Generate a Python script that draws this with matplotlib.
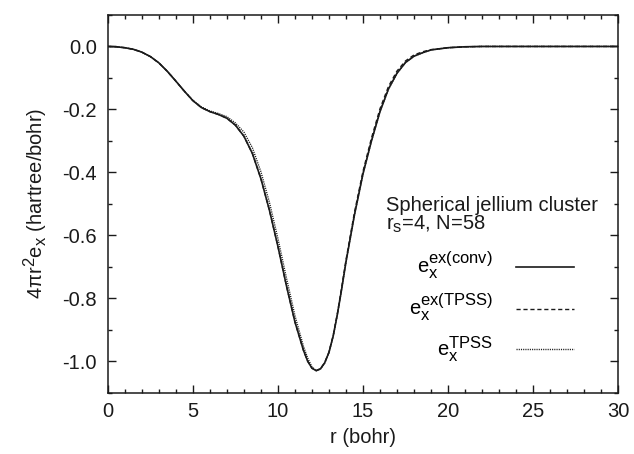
import matplotlib
matplotlib.use("Agg")
import matplotlib.pyplot as plt
import matplotlib._mathtext as mathtext_engine
from matplotlib.ticker import MultipleLocator, FormatStrFormatter

plt.rcParams['font.family'] = ['Liberation Sans', 'DejaVu Sans']
plt.rcParams['mathtext.fontset'] = 'custom'
plt.rcParams['mathtext.rm'] = 'Liberation Sans'
plt.rcParams['mathtext.it'] = 'Liberation Sans:italic'
plt.rcParams['mathtext.bf'] = 'Liberation Sans:bold'
# larger super/subscripts, closer to postscript-style enhanced text
mathtext_engine.SHRINK_FACTOR = 0.82

# radial grid (bohr)
r = [0, 0.5, 1, 1.5, 2, 2.5, 3, 3.5, 4, 4.5, 5, 5.5, 6, 6.5, 7, 7.5, 8,
     8.5, 9, 9.5, 10, 10.5, 11, 11.5, 11.75, 12, 12.25, 12.5, 12.75, 13,
     13.25, 13.5, 13.75, 14, 14.5, 15, 15.5, 16, 16.5, 17, 17.5, 18, 18.5,
     19, 20, 21, 22, 25, 30]

# 4 pi r^2 e_x, conventional exact exchange
ex_conv = [0, -0.001, -0.004, -0.009, -0.018, -0.032, -0.052, -0.079,
           -0.110, -0.142, -0.172, -0.194, -0.207, -0.216, -0.228, -0.250,
           -0.285, -0.340, -0.420, -0.520, -0.635, -0.760, -0.875, -0.965,
           -1.000, -1.022, -1.030, -1.024, -1.005, -0.972, -0.920, -0.850,
           -0.770, -0.685, -0.535, -0.405, -0.300, -0.207, -0.135, -0.085,
           -0.051, -0.031, -0.020, -0.011, -0.004, -0.001, 0, 0, 0]

# exact exchange in the TPSS gauge
ex_tpss_gauge = [0, -0.001, -0.004, -0.009, -0.018, -0.032, -0.052, -0.079,
                 -0.110, -0.142, -0.172, -0.194, -0.207, -0.216, -0.228, -0.250,
                 -0.285, -0.340, -0.420, -0.520, -0.635, -0.760, -0.875, -0.965,
                 -1.000, -1.022, -1.030, -1.024, -1.005, -0.971, -0.918, -0.847,
                 -0.765, -0.679, -0.527, -0.397, -0.291, -0.198, -0.127, -0.078,
                 -0.046, -0.027, -0.017, -0.010, -0.004, -0.001, 0, 0, 0]

# TPSS meta-GGA exchange
ex_tpss = [0, -0.001, -0.004, -0.009, -0.018, -0.032, -0.052, -0.079,
           -0.110, -0.142, -0.171, -0.192, -0.205, -0.213, -0.223, -0.243,
           -0.272, -0.322, -0.398, -0.495, -0.610, -0.735, -0.855, -0.952,
           -0.990, -1.018, -1.030, -1.025, -1.006, -0.973, -0.920, -0.850,
           -0.770, -0.685, -0.535, -0.405, -0.300, -0.207, -0.135, -0.085,
           -0.051, -0.031, -0.020, -0.011, -0.004, -0.001, 0, 0, 0]

fs = 14.5
ink = '#1a1a1a'

fig = plt.figure(figsize=(6.34, 4.54), dpi=100)
ax = fig.add_axes([0.170, 0.135, 0.805, 0.832])

ax.plot(r, ex_conv, color=ink, lw=1.2, ls='-',
        label=r'$\mathrm{e}_\mathrm{x}^\mathrm{ex(conv)}$')
ax.plot(r, ex_tpss_gauge, color=ink, lw=1.0, ls=(0, (3, 2)),
        label=r'$\mathrm{e}_\mathrm{x}^\mathrm{ex(TPSS)}$')
ax.plot(r, ex_tpss, color=ink, lw=1.0, ls=(0, (0.8, 0.8)),
        label=r'$\mathrm{e}_\mathrm{x}^\mathrm{TPSS}$')

ax.set_xlim(0, 30)
ax.set_ylim(-1.1, 0.1)
ax.xaxis.set_major_locator(MultipleLocator(5))
ax.xaxis.set_minor_locator(MultipleLocator(1))
ax.yaxis.set_major_locator(MultipleLocator(0.2))
ax.yaxis.set_minor_locator(MultipleLocator(0.1))
ax.yaxis.set_major_formatter(FormatStrFormatter('%.1f'))

ax.tick_params(which='both', direction='in', top=True, right=True,
               color=ink, width=1.0, labelsize=fs, labelcolor=ink)
ax.tick_params(which='major', length=5.5)
ax.tick_params(which='minor', length=2.7)
ax.tick_params(axis='x', pad=7)
ax.tick_params(axis='y', pad=8)
for s in ax.spines.values():
    s.set_linewidth(1.1)
    s.set_color(ink)

ax.set_xlabel('r (bohr)', fontsize=fs, color=ink, labelpad=5)
ax.set_ylabel(r'4$\mathrm{\pi}$r$^\mathrm{2}$e$_\mathrm{x}$ (hartree/bohr)',
              fontsize=fs, color=ink, labelpad=9)

# cluster description, two tightly stacked lines
ax.text(0.546, 0.481, 'Spherical jellium cluster', transform=ax.transAxes,
        fontsize=fs, color=ink, ha='left', va='baseline')
ax.text(0.546, 0.432, r'r$_\mathrm{s}$=4, N=58', transform=ax.transAxes,
        fontsize=fs, color=ink, ha='left', va='baseline')

ax.legend(loc='upper right', bbox_to_anchor=(0.913, 0.377), frameon=False,
          markerfirst=False, fontsize=fs, handlelength=2.85,
          handletextpad=1.15, labelspacing=0.53, borderpad=0, borderaxespad=0)

fig.savefig('out.png', dpi=100)
